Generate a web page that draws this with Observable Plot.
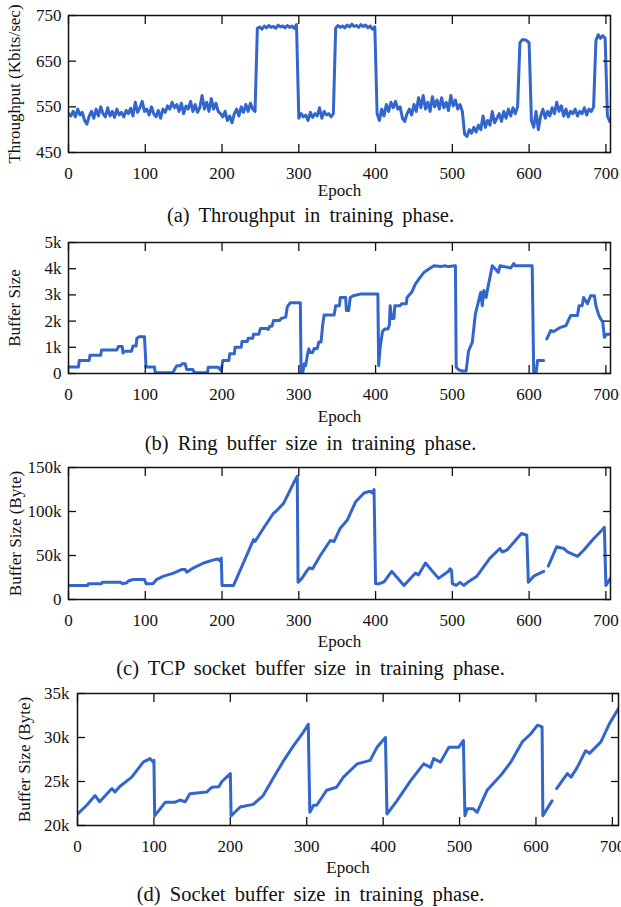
<!DOCTYPE html>
<html>
<head>
<meta charset="utf-8">
<script src="https://cdn.jsdelivr.net/npm/d3@7"></script>
<script src="https://cdn.jsdelivr.net/npm/@observablehq/plot@0.6"></script>
<style>
  html, body { margin: 0; padding: 0; background: white; overflow: hidden; }
  #wrap { position: relative; width: 621px; height: 907px; background: white; }
  .panel { position: absolute; left: 0; width: 621px; z-index: 1; }
  .panel svg { overflow: visible; }
  .cap { position: absolute; left: 0; width: 621px; text-align: center; z-index: 2;
         font-family: "Liberation Serif", serif; font-size: 20.5px; line-height: 24px;
         word-spacing: 4px; color: #111; white-space: nowrap; }
</style>
</head>
<body>
<div id="wrap"></div>
<script>
// ---------------- DATA ----------------
// (a) Throughput (Kbits/sec), one value every 3 epochs starting at epoch 0
const thrStep = 3;
const thrValues = [
  535,530,540,528,545,532,538,520,512,530,
  540,525,545,530,550,535,528,548,530,540,
  527,545,532,538,528,542,535,547,530,560,
  538,548,562,540,545,532,550,535,528,542,
  525,545,538,552,545,560,548,555,540,558,
  535,552,545,562,540,555,538,548,575,545,
  560,540,568,545,558,540,535,528,540,520,
  530,515,535,545,530,550,538,555,540,558,
  545,540,
  722,725,720,727,723,728,724,726,722,729,725,727,723,728,724,727,722,730,
  525,535,528,532,520,538,527,535,530,548,525,540,532,535,528,535,
  722,728,724,727,723,729,725,731,726,728,724,730,726,729,723,727,720,725,
  535,520,545,530,555,540,560,548,562,545,550,525,518,535,545,532,555,540,570,548,
  575,545,560,540,572,550,565,545,570,548,560,542,575,552,565,545,555,540,
  490,485,500,492,505,495,510,500,530,505,520,510,540,515,525,535,518,540,525,545,
  530,548,535,550,
  690,697,697,695,690,
  520,505,540,500,530,545,525,540,530,548,535,560,540,552,530,545,528,540,535,545,
  530,540,535,548,532,545,540,550,
  695,708,700,706,700,530,518
];

// (b) Ring buffer size
const ringEpoch = [0,13,14,27,28,42,43,63,65,70,71,72,82,84,88,89,92,99,101,112,113,136,139,141,146,148,152,154,162,164,181,182,195,199,201,209,210,216,217,225,226,233,234,240,241,248,250,258,260,262,265,267,275,277,283,285,289,302,303,305,307,309,311,313,315,318,320,324,326,329,331,333,346,348,353,354,361,362,365,367,371,380,403,404,406,409,412,416,418,419,421,424,425,432,434,440,441,447,452,458,463,469,476,485,490,495,504,505,508,512,518,521,526,530,537,539,541,544,546,552,560,562,576,578,580,582,604,606,609,611,619,621,623,626,628,632,640,648,654,663,665,669,671,676,680,685,687,691,696,698,701,705];
const ringValue = [250,250,500,500,700,700,900,900,1030,1030,780,850,850,1050,1050,1340,1400,1400,250,250,30,30,200,300,300,370,370,150,150,30,30,240,240,100,500,500,750,750,1000,1000,1220,1220,1350,1350,1500,1500,1720,1720,1680,1800,1800,2020,2020,2100,2150,2550,2700,2700,0,0,370,300,680,940,800,800,950,950,1200,1200,1830,2230,2230,2590,2590,2900,2900,2400,2400,2900,2970,3030,3030,300,1000,1600,1700,1700,1850,2590,2100,2100,2590,2590,2660,2660,2900,3100,3420,3670,3860,3980,4110,4080,4110,4080,4110,240,150,100,100,850,1200,2280,3100,2590,3170,2900,3230,4110,3860,4110,4030,4110,4200,4110,4110,0,0,500,500,null,1320,1500,1640,1600,1750,1830,2210,2210,2590,2590,2900,2660,2970,2970,2590,2200,1950,1380,1500,1500];

// (c) TCP socket buffer size (Byte)
const tcpEpoch = [0,25,26,43,44,68,70,76,78,84,99,101,110,115,124,137,147,152,154,163,176,189,195,197,199,200,215,224,241,243,254,267,270,280,293,298,299,304,310,314,318,328,341,346,354,363,374,385,393,396,398,400,405,411,421,437,452,456,465,482,495,497,499,500,505,510,515,519,532,549,562,565,571,584,590,597,599,606,619,622,625,636,645,650,663,671,684,695,698,700,706];
const tcpValue = [16000,16000,17800,18000,19500,19500,18000,19000,21000,22700,22700,18000,18000,23000,26500,30000,34000,34000,31000,36000,41500,45000,46000,44000,47000,16000,16000,34000,68000,66000,81000,98000,100000,109000,132000,140000,19500,24000,32000,36000,35000,50000,67000,66000,81000,90000,111000,121000,123000,121000,125000,18000,18000,20000,32000,16000,30000,28000,41500,24000,32000,35000,33000,18000,16000,19500,16000,19000,26500,47000,58000,54000,56000,69000,75000,73000,19500,26500,32000,null,38000,60000,58000,54000,49000,56000,69000,79000,82000,16000,24000];

// (d) Socket buffer size (Byte)
const sockEpoch = [0,12,23,29,45,49,55,71,86,95,99,100,101,115,128,134,141,147,169,176,185,189,200,201,213,230,243,257,270,283,294,302,304,309,313,326,339,348,357,366,383,392,403,405,418,436,453,462,466,475,486,499,505,507,510,518,523,536,554,567,582,593,602,608,609,621,624,627,641,646,654,665,670,685,696,708];
const sockValue = [21300,22300,23400,22700,24200,23800,24400,25500,27200,27600,27200,27400,21100,22650,22650,22900,22700,23600,23800,24350,24400,25000,25900,21100,22100,22400,23400,25500,27400,29100,30400,31500,21500,22300,22300,24000,24350,25500,26250,27000,27400,28900,30000,21300,22800,25100,27000,26600,27600,27200,28900,28900,29650,21100,21900,21900,21500,24000,25700,27200,29500,30400,31400,31200,21100,22800,null,24200,25900,25500,26600,28500,28200,29500,31550,33300];

// Axis ticks and labels
const epochTicks = [0,100,200,300,400,500,600,700];
const thrTicks = [450,550,650,750];
const thrTickLabels = ["450","550","650","750"];
const ringTicks = [0,1000,2000,3000,4000,5000];
const ringTickLabels = ["0","1k","2k","3k","4k","5k"];
const tcpTicks = [0,50000,100000,150000];
const tcpTickLabels = ["0","50k","100k","150k"];
const sockTicks = [20000,25000,30000,35000];
const sockTickLabels = ["20k","25k","30k","35k"];

const titles = [
  "(a) Throughput in training phase.",
  "(b) Ring buffer size in training phase.",
  "(c) TCP socket buffer size in training phase.",
  "(d) Socket buffer size in training phase."
];
const yLabels = ["Throughput (Kbits/sec)", "Buffer Size", "Buffer Size (Byte)", "Buffer Size (Byte)"];

// ---------------- DRAW ----------------
const lineColor = "#3366cc";
const wrap = document.getElementById("wrap");

function panel(cfg) {
  const labelMap = new Map(cfg.yTicks.map((t, i) => [t, cfg.yTickLabels[i]]));
  const svg = Plot.plot({
    width: 621,
    height: cfg.height,
    marginTop: cfg.mt, marginBottom: cfg.mb, marginLeft: cfg.ml, marginRight: cfg.mr,
    style: {fontFamily: "Liberation Serif", fontSize: "17px", color: "#111", background: "transparent", overflow: "visible"},
    x: {domain: cfg.xDomain},
    y: {domain: cfg.yDomain},
    marks: [
      Plot.line(cfg.data, {x: "e", y: "v", stroke: lineColor, strokeWidth: 3, strokeLinejoin: "round", clip: true}),
      Plot.axisX({ticks: epochTicks, tickSize: -8, tickPadding: 22, tickFormat: d => String(d), label: null, strokeWidth: 1.3}),
      Plot.axisX({anchor: "top", ticks: epochTicks, tickSize: -8, tickFormat: () => "", label: null, strokeWidth: 1.3}),
      Plot.axisY({ticks: cfg.yTicks, tickSize: -8, tickPadding: cfg.ypad, tickFormat: d => labelMap.get(d), label: null, strokeWidth: 1.3}),
      Plot.axisY({anchor: "right", ticks: cfg.yTicks, tickSize: -8, tickFormat: () => "", label: null, strokeWidth: 1.3}),
      Plot.frame({stroke: "#111", strokeWidth: 1.5}),
      Plot.text([cfg.ylabel], {text: d => d, frameAnchor: "left", textAnchor: "middle", lineAnchor: "middle", dx: cfg.ylabelDx, rotate: -90, fontSize: 17, fill: "#111"}),
      Plot.text(["Epoch"], {text: d => d, frameAnchor: "bottom", textAnchor: "middle", lineAnchor: "middle", dy: cfg.epochDy, fontSize: 17, fill: "#111"})
    ]
  });
  const holder = document.createElement("div");
  holder.className = "panel";
  holder.style.top = cfg.top + "px";
  holder.appendChild(svg);
  wrap.appendChild(holder);
  const cap = document.createElement("div");
  cap.className = "cap";
  cap.style.top = cfg.capTop + "px";
  cap.textContent = cfg.title;
  wrap.appendChild(cap);
}

panel({
  top: 0, height: 200, mt: 15, mb: 48, ml: 68, mr: 11,
  xDomain: [0, 706], yDomain: [450, 750],
  yTicks: thrTicks, yTickLabels: thrTickLabels, ypad: 15,
  data: thrValues.map((v, i) => ({e: i * thrStep, v})),
  ylabel: yLabels[0], ylabelDx: -54, epochDy: 38,
  title: titles[0], capTop: 203
});
panel({
  top: 227, height: 200, mt: 15, mb: 54, ml: 68, mr: 11,
  xDomain: [0, 706], yDomain: [0, 5000],
  yTicks: ringTicks, yTickLabels: ringTickLabels, ypad: 15,
  data: ringEpoch.map((e, i) => ({e, v: ringValue[i]})),
  ylabel: yLabels[1], ylabelDx: -54, epochDy: 43,
  title: titles[1], capTop: 431
});
panel({
  top: 452, height: 200, mt: 15, mb: 53, ml: 68, mr: 11,
  xDomain: [0, 706], yDomain: [0, 150000],
  yTicks: tcpTicks, yTickLabels: tcpTickLabels, ypad: 15,
  data: tcpEpoch.map((e, i) => ({e, v: tcpValue[i]})),
  ylabel: yLabels[2], ylabelDx: -53, epochDy: 42,
  title: titles[2], capTop: 656
});
panel({
  top: 678, height: 200, mt: 15, mb: 53, ml: 77, mr: 3,
  xDomain: [0, 708], yDomain: [20000, 35000],
  yTicks: sockTicks, yTickLabels: sockTickLabels, ypad: 16,
  data: sockEpoch.map((e, i) => ({e, v: sockValue[i]})),
  ylabel: yLabels[3], ylabelDx: -53, epochDy: 42,
  title: titles[3], capTop: 882
});
</script>
</body>
</html>
